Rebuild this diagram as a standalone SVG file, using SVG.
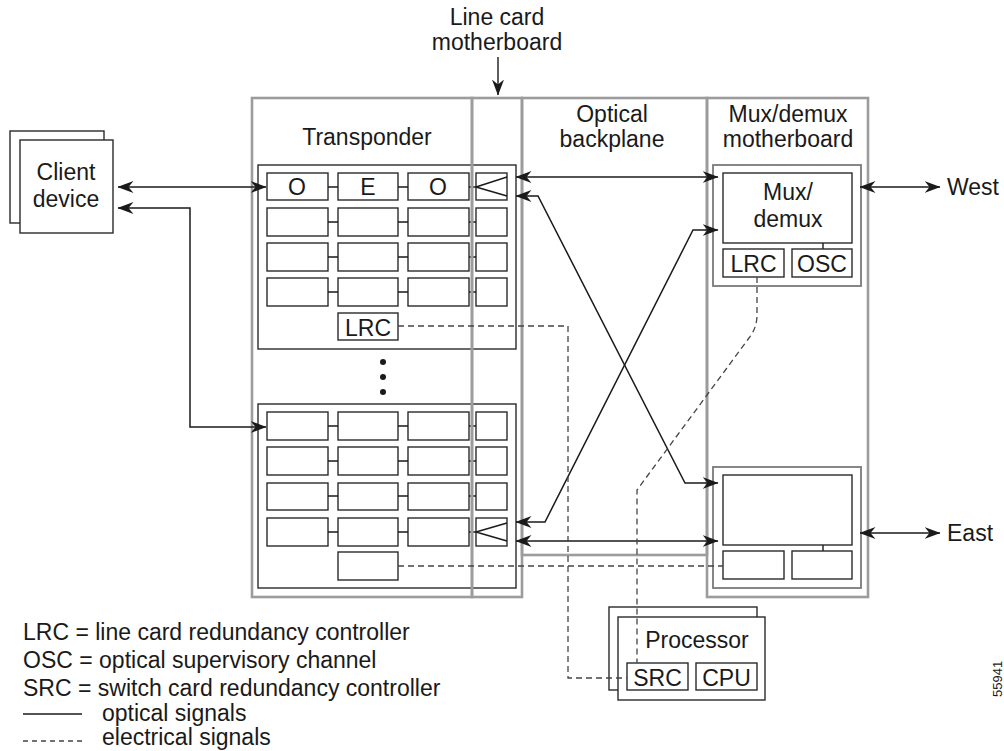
<svg xmlns="http://www.w3.org/2000/svg" width="1004" height="751" viewBox="0 0 1004 751">
<style>
text{font-family:"Liberation Sans",Arial,sans-serif;font-size:23px;fill:#1a1a1a}
.c{text-anchor:middle}
.box{fill:none;stroke:#2a2a2a;stroke-width:1.4}
.wbox{fill:#fff;stroke:#2a2a2a;stroke-width:1.4}
.card{fill:none;stroke:#2a2a2a;stroke-width:1.4}
.mcard{fill:none;stroke:#7a7a7a;stroke-width:1.8}
.frame{fill:none;stroke:#9c9c9c;stroke-width:2.6}
.ln{fill:none;stroke:#1a1a1a;stroke-width:1.4}
.opt{fill:none;stroke:#1a1a1a;stroke-width:1.5;marker-start:url(#ah);marker-end:url(#ah)}
.el{fill:none;stroke:#444;stroke-width:1.3;stroke-dasharray:6 4}
</style>
<defs>
<marker id="ah" viewBox="0 0 16 12" refX="15.5" refY="6" markerWidth="16" markerHeight="12" markerUnits="userSpaceOnUse" orient="auto-start-reverse"><path d="M0,0 L16,6 L0,12 L5,6 z" fill="#1a1a1a"/></marker>
<marker id="ah1" viewBox="0 0 12 16" refX="6" refY="15.5" markerWidth="12" markerHeight="16" markerUnits="userSpaceOnUse" orient="0"><path d="M0,0 L6,16 L12,0 L6,5 z" fill="#1a1a1a"/></marker>
</defs>

<g id="client-device">
<rect x="10" y="131" width="94" height="92" class="wbox"/>
<rect x="20" y="140" width="93" height="93" class="wbox"/>
<text x="66" y="180" class="c">Client</text>
<text x="66" y="207" class="c">device</text>
</g>

<g id="transponder-card-1">
<rect x="258" y="165" width="258" height="184" class="card"/>
<rect x="267" y="173" width="61" height="27" class="box"/>
<rect x="338" y="173" width="60" height="27" class="box"/>
<rect x="408" y="173" width="61" height="27" class="box"/>
<rect x="476" y="173" width="31" height="27" class="box"/>
<text x="297" y="195" class="c">O</text>
<text x="368" y="195" class="c">E</text>
<text x="438" y="195" class="c">O</text>
<path d="M476,187 L507,177 M476,187 L507,196" class="ln"/>
<rect x="267" y="208" width="61" height="28" class="box"/>
<rect x="338" y="208" width="60" height="28" class="box"/>
<rect x="408" y="208" width="61" height="28" class="box"/>
<rect x="476" y="208" width="31" height="28" class="box"/>
<rect x="267" y="243" width="61" height="28" class="box"/>
<rect x="338" y="243" width="60" height="28" class="box"/>
<rect x="408" y="243" width="61" height="28" class="box"/>
<rect x="476" y="243" width="31" height="28" class="box"/>
<rect x="267" y="278" width="61" height="28" class="box"/>
<rect x="338" y="278" width="60" height="28" class="box"/>
<rect x="408" y="278" width="61" height="28" class="box"/>
<rect x="476" y="278" width="31" height="28" class="box"/>
<path d="M328,187H338M398,187H408M469,187H476M328,222H338M398,222H408M469,222H476M328,257H338M398,257H408M469,257H476M328,292H338M398,292H408M469,292H476" class="ln"/>
<rect x="338" y="313" width="60" height="27" class="box"/>
<text x="368" y="336" class="c">LRC</text>
</g>

<g id="ellipsis">
<circle cx="383" cy="362" r="3" fill="#1a1a1a"/>
<circle cx="383" cy="377" r="3" fill="#1a1a1a"/>
<circle cx="383" cy="392" r="3" fill="#1a1a1a"/>
</g>

<g id="transponder-card-n">
<rect x="258" y="404" width="258" height="184" class="card"/>
<rect x="267" y="412" width="61" height="28" class="box"/>
<rect x="338" y="412" width="60" height="28" class="box"/>
<rect x="408" y="412" width="61" height="28" class="box"/>
<rect x="476" y="412" width="31" height="28" class="box"/>
<rect x="267" y="447" width="61" height="28" class="box"/>
<rect x="338" y="447" width="60" height="28" class="box"/>
<rect x="408" y="447" width="61" height="28" class="box"/>
<rect x="476" y="447" width="31" height="28" class="box"/>
<rect x="267" y="483" width="61" height="27" class="box"/>
<rect x="338" y="483" width="60" height="27" class="box"/>
<rect x="408" y="483" width="61" height="27" class="box"/>
<rect x="476" y="483" width="31" height="27" class="box"/>
<rect x="267" y="518" width="61" height="28" class="box"/>
<rect x="338" y="518" width="60" height="28" class="box"/>
<rect x="408" y="518" width="61" height="28" class="box"/>
<rect x="476" y="518" width="31" height="28" class="box"/>
<path d="M476,532 L507,523 M476,532 L507,541" class="ln"/>
<path d="M328,426H338M398,426H408M469,426H476M328,461H338M398,461H408M469,461H476M328,496H338M398,496H408M469,496H476M328,532H338M398,532H408M469,532H476" class="ln"/>
<rect x="338" y="552" width="60" height="28" class="box"/>
</g>

<g id="mux-demux-card-west">
<rect x="713" y="165" width="148" height="121" class="mcard"/>
<rect x="723" y="173" width="129" height="70" class="box"/>
<text x="788" y="200" class="c">Mux/</text>
<text x="788" y="227" class="c">demux</text>
<path d="M823,243V249" class="ln"/>
<rect x="723" y="249" width="61" height="28" class="box"/>
<rect x="792" y="249" width="60" height="28" class="box"/>
<text x="753.5" y="272" class="c">LRC</text>
<text x="822" y="272" class="c">OSC</text>
</g>

<g id="mux-demux-card-east">
<rect x="713" y="467" width="148" height="121" class="mcard"/>
<rect x="723" y="475" width="129" height="70" class="box"/>
<path d="M823,545V551" class="ln"/>
<rect x="723" y="551" width="61" height="28" class="box"/>
<rect x="792" y="551" width="60" height="28" class="box"/>
</g>

<g id="frames">
<rect x="252" y="98" width="220" height="499" class="frame"/>
<rect x="472" y="98" width="50" height="499" class="frame"/>
<rect x="522" y="98" width="185" height="457" class="frame"/>
<rect x="707" y="98" width="161" height="499" class="frame"/>
<text x="367" y="145" class="c">Transponder</text>
<text x="612" y="122" class="c">Optical</text>
<text x="612" y="147" class="c">backplane</text>
<text x="788" y="122" class="c">Mux/demux</text>
<text x="788" y="147" class="c">motherboard</text>
<text x="497" y="25" class="c">Line card</text>
<text x="497" y="50" class="c">motherboard</text>
</g>

<g id="processor">
<rect x="609" y="607" width="148" height="83" class="wbox"/>
<rect x="618" y="617" width="147" height="83" class="wbox"/>
<text x="697" y="648" class="c">Processor</text>
<rect x="627" y="663" width="61" height="27" class="box"/>
<rect x="696" y="663" width="61" height="27" class="box"/>
<text x="657.5" y="686" class="c">SRC</text>
<text x="726.5" y="686" class="c">CPU</text>
</g>

<g id="connectors">
<path d="M498,57V95" class="ln" style="marker-end:url(#ah1)"/>
<path d="M118,187H266" class="opt"/>
<path d="M266,427H190V208H118" class="opt"/>
<path d="M516,177H718" class="opt"/>
<path d="M516,196H538L685,483H718" class="opt"/>
<path d="M516,522H545L693,230H718" class="opt"/>
<path d="M516,541H718" class="opt"/>
<path d="M860,187H940" class="opt"/>
<path d="M860,533H940" class="opt"/>
<path d="M398,326H568V678H627" class="el"/>
<path d="M757,277V315Q757,328 749,338L637,490V663" class="el"/>
<path d="M398,566H723" class="el"/>
</g>

<g id="labels">
<text x="947" y="195">West</text>
<text x="947" y="541">East</text>
</g>

<g id="legend">
<text x="23" y="640">LRC = line card redundancy controller</text>
<text x="23" y="668">OSC = optical supervisory channel</text>
<text x="23" y="696">SRC = switch card redundancy controller</text>
<path d="M23,714H82" class="ln"/>
<text x="102" y="721">optical signals</text>
<path d="M23,741H82" class="el" style="stroke-dasharray:5 4"/>
<text x="102" y="745">electrical signals</text>
</g>

<text transform="translate(1002,697) rotate(-90)" style="font-size:13px">55941</text>
</svg>
